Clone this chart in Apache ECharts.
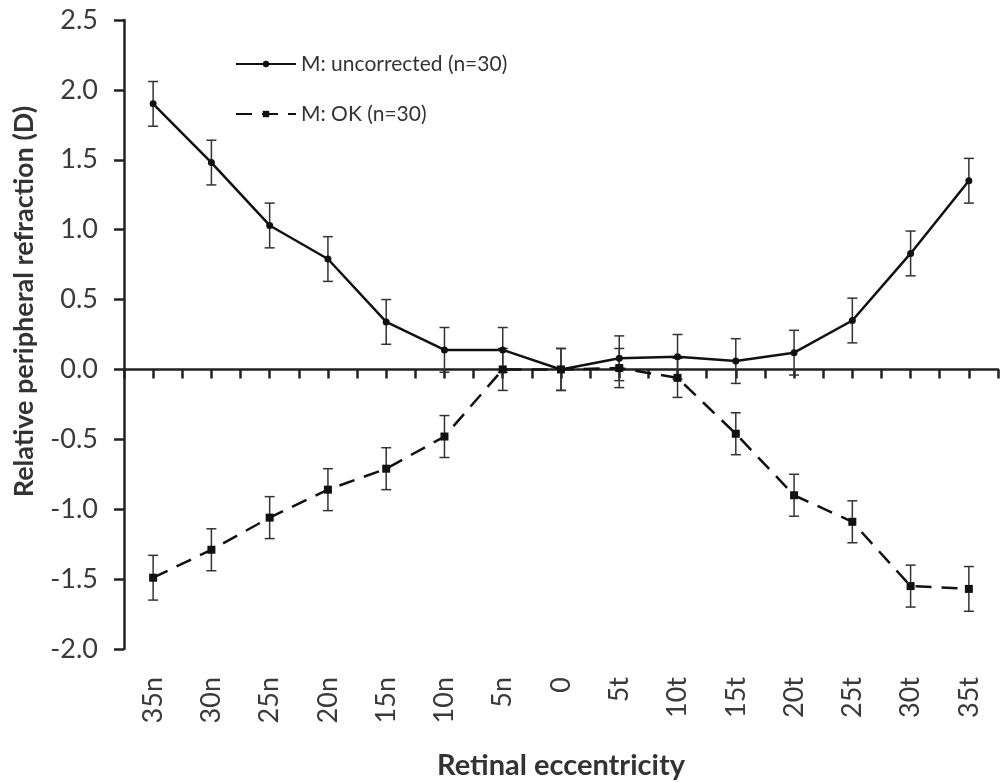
<!DOCTYPE html>
<html lang="en" style="height: 100%">
<head>
<meta charset="UTF-8">
<script src="https://cdn.jsdelivr.net/npm/echarts@6/dist/echarts.min.js"></script>
</head>
<body style="height: 100%; margin: 0; background: #fff">
<div id="container" style="width: 1000px; height: 782px"></div>
<script>
// eccentricity categories and mean RPR values (D)
var categories = ['35n', '30n', '25n', '20n', '15n', '10n', '5n', '0', '5t', '10t', '15t', '20t', '25t', '30t', '35t'];
var uncorrected = [1.90, 1.48, 1.03, 0.79, 0.34, 0.14, 0.14, 0.00, 0.08, 0.09, 0.06, 0.12, 0.35, 0.83, 1.35];
var uncorrectedErr = [0.16, 0.16, 0.16, 0.16, 0.16, 0.16, 0.16, 0.15, 0.16, 0.16, 0.16, 0.16, 0.16, 0.16, 0.16];
var ok = [-1.49, -1.29, -1.06, -0.86, -0.71, -0.48, 0.00, 0.00, 0.01, -0.06, -0.46, -0.90, -1.09, -1.55, -1.57];
var okErr = [0.16, 0.15, 0.15, 0.15, 0.15, 0.15, 0.15, 0.15, 0.14, 0.14, 0.15, 0.15, 0.15, 0.15, 0.16];

var font = 'Lato, "Open Sans", sans-serif';

function errData(mean, err) {
    return mean.map(function (m, i) {
        return [i, m - err[i], m + err[i]];
    });
}

function renderErr(params, api) {
    var x = api.value(0);
    var lo = api.coord([x, api.value(1)]);
    var hi = api.coord([x, api.value(2)]);
    var cap = 5;
    var style = { stroke: '#333', lineWidth: 1.5 };
    return {
        type: 'group',
        children: [
            { type: 'line', shape: { x1: lo[0], y1: lo[1], x2: hi[0], y2: hi[1] }, style: style },
            { type: 'line', shape: { x1: lo[0] - cap, y1: lo[1], x2: lo[0] + cap, y2: lo[1] }, style: style },
            { type: 'line', shape: { x1: hi[0] - cap, y1: hi[1], x2: hi[0] + cap, y2: hi[1] }, style: style }
        ]
    };
}

var myChart = echarts.init(document.getElementById('container'));
var option = {
    backgroundColor: '#fff',
    animation: false,
    textStyle: { fontFamily: font },
    grid: { left: 124, right: 2, top: 20, bottom: 133, containLabel: false, outerBoundsMode: 'none' },
    legend: {
        orient: 'vertical',
        left: 230,
        top: 46,
        itemWidth: 60,
        itemHeight: 8,
        itemGap: 24,
        textStyle: { fontSize: 21, color: '#333', fontFamily: font, lineHeight: 26 },
        data: ['M: uncorrected (n=30)', 'M: OK (n=30)']
    },
    xAxis: [
        {
            type: 'category',
            data: categories,
            position: 'bottom',
            boundaryGap: true,
            axisLine: { show: false, onZero: false },
            axisTick: { show: false },
            axisLabel: { rotate: 90, margin: 28, fontSize: 27, color: '#3a3a3a', fontFamily: font },
            name: 'Retinal eccentricity',
            nameLocation: 'middle',
            nameGap: 102,
            nameTextStyle: { fontSize: 29, fontWeight: 'bold', color: '#333', fontFamily: font }
        },
        {
            // zero line with ticks at every half category
            type: 'value',
            position: 'top',
            min: -0.5,
            max: 14.5,
            interval: 0.5,
            axisLine: { show: true, onZero: true, lineStyle: { color: '#222', width: 2.5 } },
            axisTick: { show: true, inside: true, length: 9, lineStyle: { color: '#222', width: 2.5 } },
            axisLabel: { show: false },
            splitLine: { show: false }
        }
    ],
    yAxis: {
        type: 'value',
        min: -2,
        max: 2.5,
        interval: 0.5,
        axisLine: { show: true, onZero: false, lineStyle: { color: '#222', width: 2.5 } },
        axisTick: { show: true, length: 10, lineStyle: { color: '#222', width: 2.5 } },
        axisLabel: {
            margin: 26, fontSize: 27, color: '#3a3a3a', fontFamily: font,
            formatter: function (v) { return v.toFixed(1); }
        },
        splitLine: { show: false },
        name: 'Relative peripheral refraction (D)',
        nameLocation: 'middle',
        nameGap: 86,
        nameTextStyle: { fontSize: 27, fontWeight: 'bold', color: '#333', fontFamily: font, padding: [0, 0, 0, 66] }
    },
    series: [
        {
            name: 'M: uncorrected (n=30)',
            type: 'line',
            xAxisIndex: 0,
            data: uncorrected,
            symbol: 'circle',
            symbolSize: 7,
            itemStyle: { color: '#111' },
            lineStyle: { color: '#111', width: 2.5 },
            z: 3
        },
        {
            name: 'M: OK (n=30)',
            type: 'line',
            xAxisIndex: 0,
            data: ok,
            symbol: 'rect',
            symbolSize: 8,
            itemStyle: { color: '#111' },
            lineStyle: { color: '#111', width: 2.5, type: [16, 10] },
            z: 3
        },
        {
            type: 'custom',
            xAxisIndex: 0,
            renderItem: renderErr,
            data: errData(uncorrected, uncorrectedErr),
            z: 2
        },
        {
            type: 'custom',
            xAxisIndex: 0,
            renderItem: renderErr,
            data: errData(ok, okErr),
            z: 2
        }
    ]
};
myChart.setOption(option);
</script>
</body>
</html>
